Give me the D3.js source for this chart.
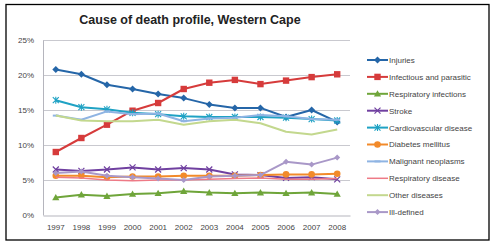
<!DOCTYPE html>
<html>
<head>
<meta charset="utf-8">
<script src="https://cdn.jsdelivr.net/npm/d3@7"></script>
<style>
  body { margin: 0; background: #fff; }
  svg { font-family: "Liberation Sans", Arial, sans-serif; }
</style>
</head>
<body>
<svg id="chart" width="497" height="249"></svg>
<script>
const years = ["1997", "1998", "1999", "2000", "2001", "2002", "2003", "2004", "2005", "2006", "2007", "2008"];
const yTicks = [0, 5, 10, 15, 20, 25];

const injuries = [20.8, 20.1, 18.6, 18.0, 17.3, 16.7, 15.8, 15.3, 15.3, 14.0, 15.0, 13.3];
const infectious = [9.0, 11.0, 12.9, 14.9, 16.0, 18.0, 18.9, 19.3, 18.7, 19.2, 19.7, 20.1];
const respInfections = [2.5, 2.9, 2.7, 3.0, 3.1, 3.4, 3.2, 3.1, 3.2, 3.1, 3.2, 3.0];
const stroke = [6.5, 6.3, 6.5, 6.8, 6.5, 6.7, 6.5, 5.8, 5.7, 5.3, 5.4, 5.1];
const cardio = [16.4, 15.4, 15.1, 14.6, 14.4, 14.1, 14.0, 14.0, 14.0, 13.9, 13.7, 13.5];
const diabetes = [5.6, 5.6, 5.4, 5.5, 5.5, 5.6, 5.6, 5.6, 5.7, 5.8, 5.8, 5.9];
const malignant = [14.2, 13.6, 14.8, 14.4, 14.5, 13.4, 13.8, 13.9, 14.3, 14.1, 13.7, 13.6];
const respDisease = [5.4, 5.3, 5.0, 4.9, 5.0, 5.0, 5.1, 5.2, 5.3, 5.1, 5.1, 5.2];
const otherDiseases = [14.2, 13.5, 13.4, 13.4, 13.6, 12.9, 13.4, 13.6, 13.1, 11.9, 11.5, 12.2];
const illDefined = [6.0, 6.2, 5.6, 5.4, 5.2, 5.0, 5.5, 5.6, 5.7, 7.6, 7.2, 8.2];

const series = [
  { name: "Injuries", values: injuries, color: "#2566a8", marker: "diamond", width: 2 },
  { name: "Infectious and parasitic", values: infectious, color: "#d63b3b", marker: "square", width: 2 },
  { name: "Respiratory infections", values: respInfections, color: "#6fa53a", marker: "triangle", width: 2 },
  { name: "Stroke", values: stroke, color: "#7040a0", marker: "x", width: 2 },
  { name: "Cardiovascular disease", values: cardio, color: "#1fa2c4", marker: "star", width: 2 },
  { name: "Diabetes mellitus", values: diabetes, color: "#f28a2a", marker: "circle", width: 2 },
  { name: "Malignant neoplasms", values: malignant, color: "#8fb4e3", marker: "dash", width: 2 },
  { name: "Respiratory disease", values: respDisease, color: "#ee7a86", marker: "none", width: 1.5 },
  { name: "Other diseases", values: otherDiseases, color: "#c3d88e", marker: "none", width: 2 },
  { name: "Ill-defined", values: illDefined, color: "#a998c8", marker: "smalldiamond", width: 2 }
];

const svg = d3.select("#chart");
const W = 497, H = 249;
const margin = { top: 40, right: 147, bottom: 34, left: 43 };

// outer frame
svg.append("rect")
  .attr("x", 6).attr("y", 4.5)
  .attr("width", 483).attr("height", 235.5)
  .attr("fill", "none").attr("stroke", "#000").attr("stroke-width", 1.3);

svg.append("text")
  .attr("x", 190).attr("y", 24)
  .attr("text-anchor", "middle")
  .attr("font-size", 12.5).attr("font-weight", "bold")
  .attr("fill", "#222")
  .text("Cause of death profile, Western Cape");

const x = d3.scaleBand()
  .domain(years)
  .range([margin.left, W - margin.right]);

const y = d3.scaleLinear()
  .domain([0, 25])
  .range([H - margin.bottom, margin.top]);

// gridlines
svg.append("g")
  .selectAll("line")
  .data(yTicks.filter(d => d > 0))
  .join("line")
  .attr("x1", margin.left).attr("x2", W - margin.right)
  .attr("y1", d => Math.round(y(d)) + 0.5).attr("y2", d => Math.round(y(d)) + 0.5)
  .attr("stroke", "#c9c9cf").attr("stroke-width", 1);

// axes
const yAxis = svg.append("g")
  .attr("transform", `translate(${margin.left},0)`)
  .call(d3.axisLeft(y).tickValues(yTicks).tickFormat(d => d + "%").tickSize(0).tickPadding(9));
yAxis.select(".domain").attr("stroke", "#b5b5bd");
yAxis.selectAll("text").attr("font-size", 8).attr("fill", "#444").attr("font-family", "Liberation Sans, Arial, sans-serif");

const xAxis = svg.append("g")
  .attr("transform", `translate(0,${Math.round(y(0)) + 0.5})`)
  .call(d3.axisBottom(x).tickSize(0).tickPadding(9));
xAxis.select(".domain").attr("stroke", "#b5b5bd");
xAxis.selectAll("text").attr("font-size", 8).attr("fill", "#444").attr("font-family", "Liberation Sans, Arial, sans-serif");

const cx = (i) => x(years[i]) + x.bandwidth() / 2;

function drawMarker(g, type, px, py, color) {
  if (type === "diamond") {
    g.append("path").attr("d", `M${px},${py - 3.5}L${px + 3.5},${py}L${px},${py + 3.5}L${px - 3.5},${py}Z`).attr("fill", color);
  } else if (type === "smalldiamond") {
    g.append("path").attr("d", `M${px},${py - 3}L${px + 3},${py}L${px},${py + 3}L${px - 3},${py}Z`).attr("fill", color);
  } else if (type === "square") {
    g.append("rect").attr("x", px - 3.2).attr("y", py - 3.2).attr("width", 6.4).attr("height", 6.4).attr("fill", color);
  } else if (type === "triangle") {
    g.append("path").attr("d", `M${px},${py - 3.6}L${px + 3.6},${py + 2.8}L${px - 3.6},${py + 2.8}Z`).attr("fill", color);
  } else if (type === "x") {
    g.append("path").attr("d", `M${px - 3},${py - 3}L${px + 3},${py + 3}M${px - 3},${py + 3}L${px + 3},${py - 3}`)
      .attr("stroke", color).attr("stroke-width", 1.2);
  } else if (type === "star") {
    g.append("path").attr("d", `M${px - 3},${py - 3}L${px + 3},${py + 3}M${px - 3},${py + 3}L${px + 3},${py - 3}M${px},${py - 3.5}L${px},${py + 3.5}`)
      .attr("stroke", color).attr("stroke-width", 1.1);
  } else if (type === "circle") {
    g.append("circle").attr("cx", px).attr("cy", py).attr("r", 3.3).attr("fill", color);
  } else if (type === "dash") {
    g.append("path").attr("d", `M${px - 3},${py}L${px + 3},${py}`).attr("stroke", color).attr("stroke-width", 2);
  }
}

const line = d3.line()
  .x((d, i) => cx(i))
  .y(d => y(d));

series.forEach(s => {
  const g = svg.append("g");
  g.append("path")
    .datum(s.values)
    .attr("fill", "none")
    .attr("stroke", s.color)
    .attr("stroke-width", s.width)
    .attr("stroke-linejoin", "round")
    .attr("d", line);
  s.values.forEach((v, i) => drawMarker(g, s.marker, cx(i), y(v), s.color));
});

// legend
const legend = svg.append("g");
series.forEach((s, i) => {
  const ly = 60 + i * 16.9;
  const g = legend.append("g");
  g.append("line")
    .attr("x1", 367).attr("x2", 388)
    .attr("y1", ly).attr("y2", ly)
    .attr("stroke", s.color).attr("stroke-width", s.width);
  drawMarker(g, s.marker, 377.5, ly, s.color);
  g.append("text")
    .attr("x", 389).attr("y", ly + 2.9)
    .attr("font-size", 8).attr("fill", "#444")
    .text(s.name);
});
</script>
</body>
</html>
